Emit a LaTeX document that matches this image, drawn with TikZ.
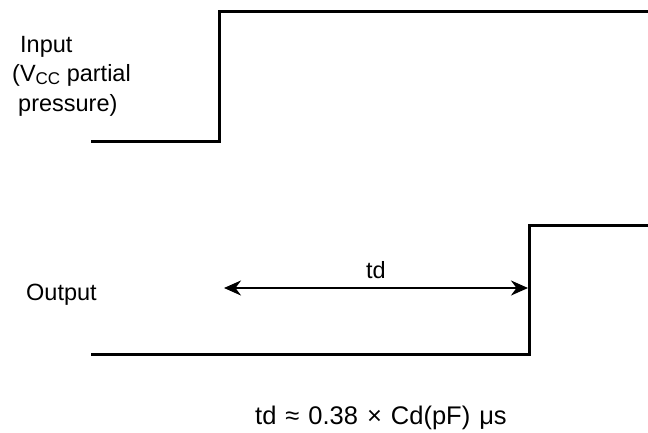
\documentclass[tikz,border=0pt]{standalone}
\usepackage{fontspec}
\setmainfont{Liberation Sans}
\usetikzlibrary{arrows.meta}
\begin{document}
\begin{tikzpicture}[x=1pt,y=-1pt,
  wave/.style={line width=3pt,line join=miter},
  lbl/.style={inner sep=0pt,anchor=base west,font=\fontsize{23.5}{28}\selectfont},
  dim/.style={line width=2pt,{Stealth[length=17pt,width=15pt]}-{Stealth[length=17pt,width=15pt]}}]
\useasboundingbox (0,0) rectangle (648,432);
% input waveform
\coordinate (i0) at (91,141);
\coordinate (i1) at (219,141);
\coordinate (i2) at (219,11);
\coordinate (i3) at (649,11);
\draw[wave] (i0) -- (i1) -- (i2) -- (i3);
% output waveform
\coordinate (o0) at (91,354);
\coordinate (o1) at (529,354);
\coordinate (o2) at (529,225);
\coordinate (o3) at (649,225);
\draw[wave] (o0) -- (o1) -- (o2) -- (o3);
% labels
\node[lbl] (inA) at (20,52) {Input};
\node[lbl] (inB) at (12,81.5) {(V{\fontsize{17}{17}\selectfont\raisebox{-2.5pt}{CC}} partial};
\node[lbl] (inC) at (18,111) {pressure)};
\node[lbl] (out) at (26,300) {Output};
% delay arrow
\coordinate (a0) at (224,288);
\coordinate (a1) at (528,288);
\draw[dim] (a0) -- (a1);
\node[lbl,anchor=base] (td) at (376,278) {td};
\node[lbl,anchor=base west,font=\fontsize{25.5}{28}\selectfont] (eq) at (255,424) {\spaceskip=9pt td ≈ 0.38 × Cd(pF) μs};
\end{tikzpicture}
\end{document}
